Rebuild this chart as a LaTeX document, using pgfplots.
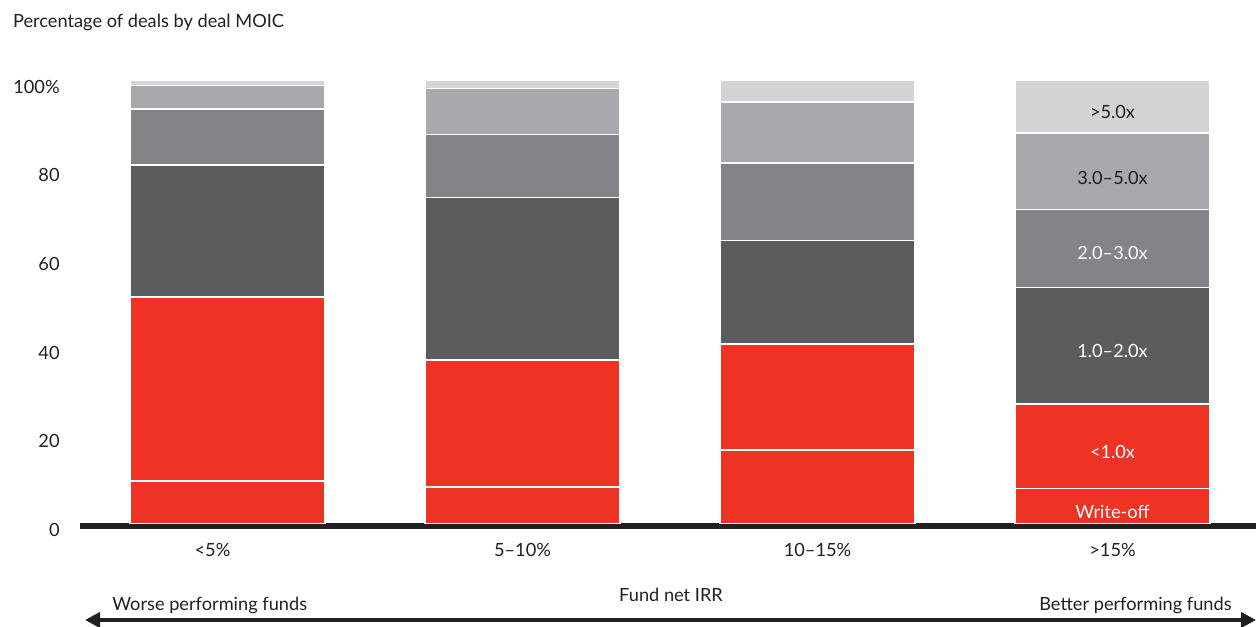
\documentclass[border=0pt]{standalone}
\usepackage{fontspec}
\setmainfont{Lato}
\usepackage{pgfplots}
\pgfplotsset{compat=1.18}
\usetikzlibrary{arrows.meta}
\definecolor{bred}{HTML}{EE3224}
\definecolor{gdark}{HTML}{5B5C5E}
\definecolor{gmid}{HTML}{838488}
\definecolor{glight}{HTML}{A8A9AC}
\definecolor{gpale}{HTML}{D3D4D6}
\definecolor{tdark}{HTML}{231F20}
\begin{document}
\fontsize{9.1pt}{11pt}\selectfont
\begin{tikzpicture}
\useasboundingbox (0pt,0pt) rectangle (628pt,313pt);
\begin{axis}[
  at={(40pt,51.35pt)}, anchor=south west,
  scale only axis, width=588pt, height=221.65pt,
  xmin=-0.5, xmax=3.4864, ymin=0, ymax=100,
  enlargelimits=false, clip=false,
  ybar stacked, bar width=97.5pt,
  axis line style={draw=none}, tick style={draw=none},
  xtick={0,1,2,3},
  xticklabels={{<5\%\rule{15pt}{0pt}},{5–10\%},{10–15\%},{>15\%}},
  ytick={0,20,40,60,80,100},
  yticklabels={0,20,40,60,80,100\%},
  xticklabel style={anchor=base, inner sep=0pt, yshift=-16.7pt, text=tdark},
  yticklabel style={anchor=base east, inner sep=0pt, xshift=-10pt, yshift=-6.6pt, text=tdark},
  every axis plot/.append style={draw=white, line width=0.75pt},
]
\addplot[fill=bred] coordinates {(0,9.5) (1,8.2) (2,16.5) (3,7.8)};
\addplot[fill=bred] coordinates {(0,41.5) (1,28.6) (2,23.9) (3,19.1)};
\addplot[fill=gdark] coordinates {(0,29.8) (1,36.7) (2,23.4) (3,26.3)};
\addplot[fill=gmid] coordinates {(0,12.7) (1,14.2) (2,17.5) (3,17.6)};
\addplot[fill=glight] coordinates {(0,5.3) (1,10.4) (2,13.7) (3,17.2)};
\addplot[fill=gpale] coordinates {(0,1.2) (1,1.9) (2,5.0) (3,12.0)};
\draw[line width=2.7pt, tdark, yshift=-1.35pt] (rel axis cs:0,0) -- (rel axis cs:1,0);
\coordinate (La) at (axis cs:3,91.4);
\coordinate (Lb) at (axis cs:3,76.5);
\coordinate (Lc) at (axis cs:3,59.4);
\coordinate (Ld) at (axis cs:3,37.45);
\coordinate (Le) at (axis cs:3,14.66);
\coordinate (Lf) at (axis cs:3,1.13);
\end{axis}
\node[anchor=base, inner sep=0pt, text=tdark] at (La) {>5.0x};
\node[anchor=base, inner sep=0pt, text=tdark] at (Lb) {3.0–5.0x};
\node[anchor=base, inner sep=0pt, text=white] at (Lc) {2.0–3.0x};
\node[anchor=base, inner sep=0pt, text=white] at (Ld) {1.0–2.0x};
\node[anchor=base, inner sep=0pt, text=white] at (Le) {<1.0x};
\node[anchor=base, inner sep=0pt, text=white] at (Lf) {Write-off};
\node[anchor=base west, inner sep=0pt, text=tdark] at (6.35pt,299.15pt) {Percentage of deals by deal MOIC};
\node[anchor=base, inner sep=0pt, text=tdark] at (335.5pt,12.5pt) {Fund net IRR};
\node[anchor=base west, inner sep=0pt, text=tdark] at (56pt,8pt) {Worse performing funds};
\node[anchor=base east, inner sep=0pt, text=tdark] at (616pt,8pt) {Better performing funds};
\draw[line width=2pt, tdark, {Triangle[length=7.5pt,width=7.5pt]}-{Triangle[length=7.5pt,width=7.5pt]}] (42.5pt,3pt) -- (628pt,3pt);
\end{tikzpicture}
\end{document}
